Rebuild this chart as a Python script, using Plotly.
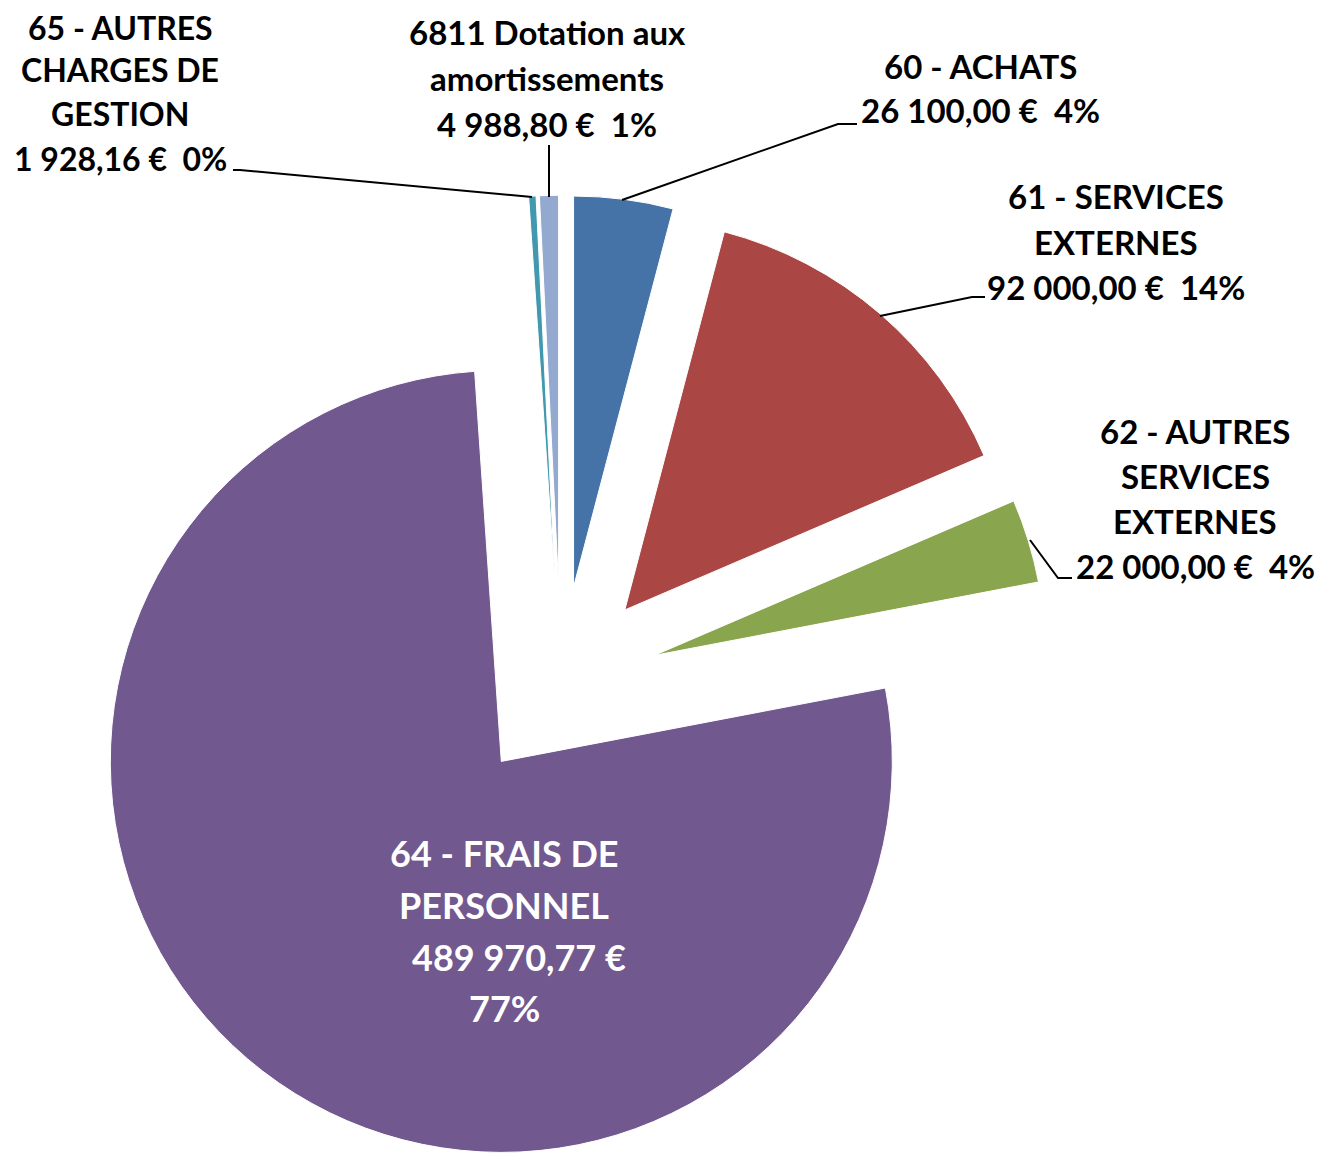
import math
import plotly.graph_objects as go

# ---- data ----
categories = ["60 - ACHATS", "61 - SERVICES EXTERNES", "62 - AUTRES SERVICES EXTERNES",
              "64 - FRAIS DE PERSONNEL", "65 - AUTRES CHARGES DE GESTION",
              "6811 Dotation aux amortissements"]
values = [26100.00, 92000.00, 22000.00, 489970.77, 1928.16, 4988.80]
value_labels = ["26 100,00 €", "92 000,00 €", "22 000,00 €", "489 970,77 €", "1 928,16 €", "4 988,80 €"]
pct_labels = ["4%", "14%", "4%", "77%", "0%", "1%"]
colors = ["#4573A7", "#AA4643", "#89A54E", "#71588F", "#4198AF", "#93A9CF"]

# ---- layout geometry ----
W, H = 1325, 1155
OFF = 8                # page body margin compensation (px)
CX, CY = 561, 684      # pie centre (px, page coords)
R = 391                # radius (px)
PULL = 0.25            # explosion (fraction of radius)


def px(x):
    return (x - OFF) / W


def py(y):
    return 1 - (y - OFF) / H


total = sum(values)
fig = go.Figure()
cum = 0.0
for i, v in enumerate(values):
    frac = v / total
    mid = (cum + frac / 2) * 2 * math.pi
    cum += frac
    cx = CX + PULL * R * math.sin(mid)
    cy = CY - PULL * R * math.cos(mid)
    mcol = ["rgba(0,0,0,0)"] * len(values)
    lcol = ["rgba(0,0,0,0)"] * len(values)
    mcol[i] = colors[i]
    lcol[i] = "white"
    fig.add_trace(go.Pie(
        labels=categories, values=values, sort=False, direction="clockwise", rotation=0,
        marker=dict(colors=mcol, line=dict(color=lcol, width=1)),
        textinfo="none", hoverinfo="skip", showlegend=False,
        domain=dict(x=[px(cx - R), px(cx + R)], y=[py(cy + R), py(cy - R)]),
    ))

# ---- labels (text lines, centre x, line centres y, colour, size) ----
label_specs = [
    (["65 - AUTRES", "CHARGES DE", "GESTION", value_labels[4] + "  " + pct_labels[4]], 120, [27, 70, 114, 158], "black", 32),
    (["6811 Dotation aux", "amortissements", value_labels[5] + "  " + pct_labels[5]], 547, [32, 78, 124], "black", 33),
    (["60 - ACHATS", value_labels[0] + "  " + pct_labels[0]], 980, [66, 110], "black", 33),
    (["61 - SERVICES", "EXTERNES", value_labels[1] + "  " + pct_labels[1]], 1116, [196, 242, 287], "black", 33),
    (["62 - AUTRES", "SERVICES", "EXTERNES", value_labels[2] + "  " + pct_labels[2]], 1195, [431, 476, 521, 566], "black", 33),
    (["64 - FRAIS DE", "PERSONNEL", value_labels[3], pct_labels[3]], 504, [853, 905, 957, 1008], "white", 36),
]
annotations = []
for lines, x, ys, col, fs in label_specs:
    for j, (t, y) in enumerate(zip(lines, ys)):
        xx = x + (15 if (col == "white" and j == 2) else 0)
        annotations.append(dict(
            text="<b>" + t + "</b>", x=px(xx), y=py(y), xref="paper", yref="paper",
            xanchor="center", yanchor="middle", showarrow=False,
            font=dict(family="Lato", size=fs, color=col)))

# ---- leader lines ----
leaders = [
    [(233, 170), (240, 170), (532, 197)],
    [(549, 145), (549, 197)],
    [(857, 124), (838, 124), (622, 200)],
    [(985, 297), (972, 297), (880, 316)],
    [(1072, 578), (1058, 578), (1030, 540)],
]
shapes = []
for pts in leaders:
    path = "M " + " L ".join(f"{px(x):.5f},{py(y):.5f}" for x, y in pts)
    shapes.append(dict(type="path", path=path, xref="paper", yref="paper",
                       line=dict(color="black", width=2)))

fig.update_layout(
    width=W, height=H, margin=dict(l=0, r=0, t=0, b=0),
    paper_bgcolor="white", plot_bgcolor="white",
    annotations=annotations, shapes=shapes, showlegend=False,
)
fig.write_html("out.html")
